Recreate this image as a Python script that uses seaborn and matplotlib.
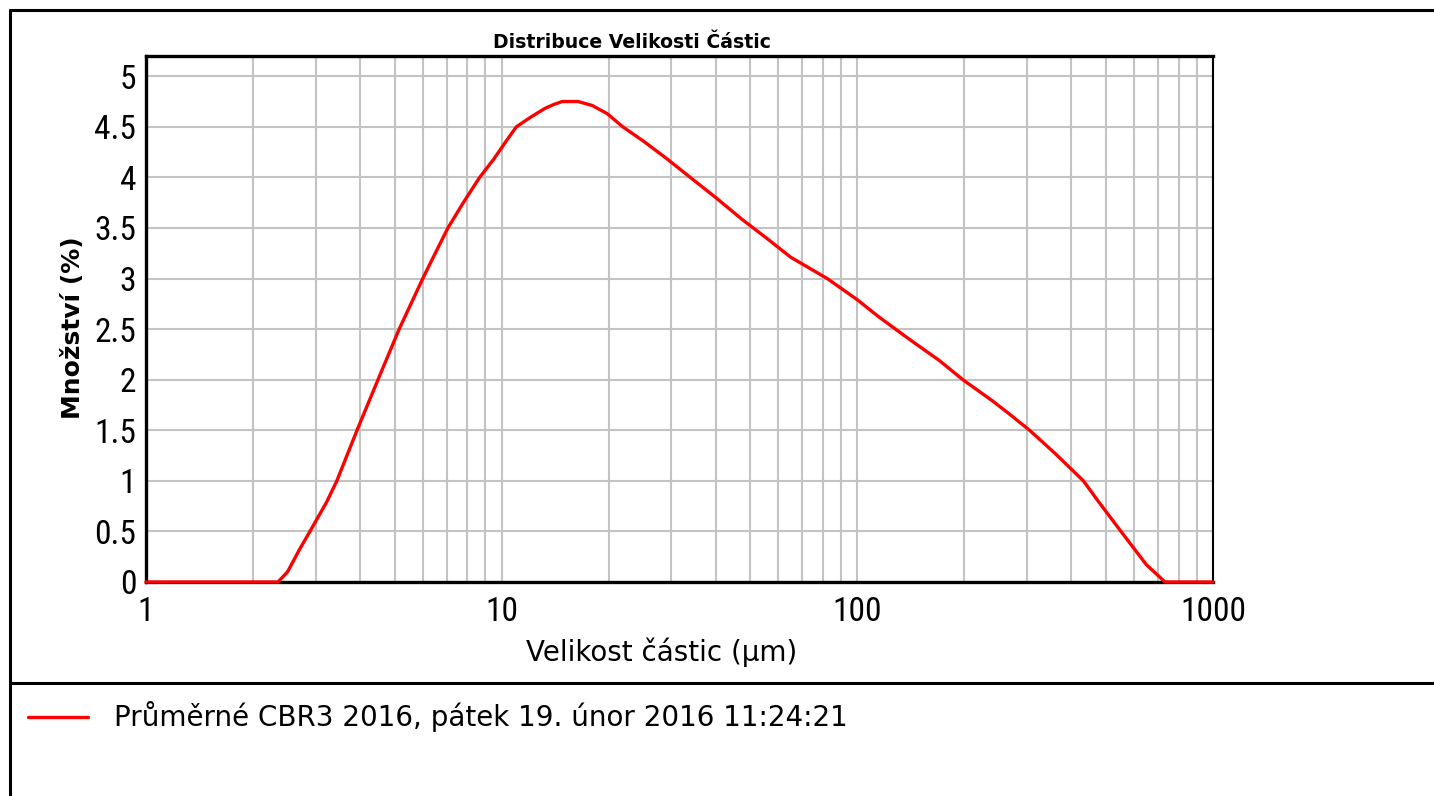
import numpy as np
import pandas as pd
import matplotlib
matplotlib.use("Agg")
import matplotlib.pyplot as plt
from matplotlib.lines import Line2D
from matplotlib.ticker import FixedLocator, NullFormatter
import seaborn as sns

# ---- data ----
size_um = [1, 2.35, 2.5, 2.7, 2.89, 3.0, 3.22, 3.44, 3.92, 4.49, 5.15, 6.0, 6.4,
           7.06, 7.8, 8.67, 9.5, 10.3, 11.0, 12.0, 13.2, 14.0, 14.8, 16.4, 18.0,
           19.8, 21.9, 25.0, 29.0, 33.9, 40.0, 47.6, 56.0, 65.0, 82.3, 100, 115,
           140, 170, 198, 240, 270, 305, 360, 432, 480, 535, 600, 650, 733, 1000]
amount_pct = [0, 0, 0.1, 0.32, 0.5, 0.6, 0.79, 1.0, 1.5, 2.0, 2.5, 3.0, 3.2,
              3.5, 3.75, 4.0, 4.18, 4.36, 4.5, 4.59, 4.68, 4.72, 4.75, 4.75, 4.71,
              4.63, 4.5, 4.36, 4.19, 4.0, 3.8, 3.58, 3.39, 3.21, 3.0, 2.79, 2.62,
              2.4, 2.19, 2.0, 1.79, 1.65, 1.5, 1.27, 1.0, 0.78, 0.56, 0.33, 0.17,
              0, 0]
series_label = "Průměrné CBR3 2016, pátek 19. únor 2016 11:24:21"
x_ticks = [1, 10, 100, 1000]
x_tick_labels = ["1", "10", "100", "1000"]
y_ticks = [0, 0.5, 1, 1.5, 2, 2.5, 3, 3.5, 4, 4.5, 5]
y_tick_labels = ["0", "0.5", "1", "1.5", "2", "2.5", "3", "3.5", "4", "4.5", "5"]
title = "Distribuce Velikosti Částic"
xlabel = "Velikost částic (µm)"
ylabel = "Množství (%)"

sns.set_style("white")
plt.rcParams['font.family'] = ['DejaVu Sans']
plt.rcParams['text.color'] = 'black'
plt.rcParams['axes.labelcolor'] = 'black'
plt.rcParams['xtick.color'] = 'black'
plt.rcParams['ytick.color'] = 'black'

W, H = 1434, 796
fig = plt.figure(figsize=(W / 100, H / 100), dpi=100)
ax = fig.add_axes([146 / W, 1 - 582 / H, (1213 - 146) / W, (582 - 56) / H])

df = pd.DataFrame({"size": size_um, "amount": amount_pct})
sns.lineplot(data=df, x="size", y="amount", ax=ax, color="#ff0000",
             linewidth=1.6, label=series_label, legend=False, zorder=5,
             clip_on=False)

ax.set_xscale("log")
ax.set_xlim(1, 1000)
ax.set_ylim(0, 5.2)

# grid
ax.xaxis.set_major_locator(FixedLocator(x_ticks))
minor = [m * d for d in (1, 10, 100) for m in range(2, 10)]
ax.xaxis.set_minor_locator(FixedLocator(minor))
ax.xaxis.set_minor_formatter(NullFormatter())
ax.set_xticklabels(x_tick_labels)
ax.set_yticks(y_ticks)
ax.set_yticklabels(y_tick_labels)
ax.grid(True, which="both", axis="x", color="#c3c3c3", linewidth=1.5)
ax.grid(True, which="major", axis="y", color="#c3c3c3", linewidth=1.5)
ax.set_axisbelow(True)

narrow = ["Liberation Sans Narrow", "DejaVu Sans Condensed", "Roboto Condensed",
          "Open Sans Condensed", "DejaVu Sans"]
for lab in ax.get_xticklabels() + ax.get_yticklabels():
    lab.set_fontfamily(narrow)
    lab.set_fontstretch("condensed")
    lab.set_fontsize(24)
    lab.set_color("black")
ax.tick_params(axis="both", which="both", length=0)
ax.tick_params(axis="y", pad=7)
ax.tick_params(axis="x", pad=10)

for side in ["left", "bottom", "top"]:
    ax.spines[side].set_color("black")
    ax.spines[side].set_linewidth(2.4)
ax.spines["right"].set_color("black")
ax.spines["right"].set_linewidth(1.5)

ax.set_xlabel(xlabel, fontsize=20, color="black")
ax.xaxis.set_label_coords(0.4836, (582 - 652) / 526)
ax.xaxis.label.set_va("center")
ax.set_ylabel(ylabel, fontsize=18, fontweight="bold", color="black")
ax.yaxis.set_label_coords((73 - 146) / 1067, 0.483)
ax.yaxis.label.set_va("center")

fig.text(632 / W, 1 - 42 / H, title, ha="center", va="center",
         fontsize=13.6, fontweight="bold", color="black")

# frame and divider
lw = 2.2
fig.add_artist(Line2D([10 / W, 10 / W], [1 - 10 / H, 0], transform=fig.transFigure,
                      color="black", linewidth=lw))
fig.add_artist(Line2D([10 / W, 1], [1 - 10 / H, 1 - 10 / H], transform=fig.transFigure,
                      color="black", linewidth=lw))
fig.add_artist(Line2D([10 / W, 1], [1 - 683 / H, 1 - 683 / H], transform=fig.transFigure,
                      color="black", linewidth=lw))

handles, labels = ax.get_legend_handles_labels()
for h in handles:
    h.set_linewidth(2.4)
leg = fig.legend(handles, labels, loc="center left", bbox_to_anchor=(28 / W, 1 - 717 / H),
                 frameon=False, fontsize=20, handlelength=2.15, handletextpad=0.95,
                 borderpad=0, borderaxespad=0)
for t in leg.get_texts():
    t.set_color("black")

fig.savefig("out.png", dpi=100)
